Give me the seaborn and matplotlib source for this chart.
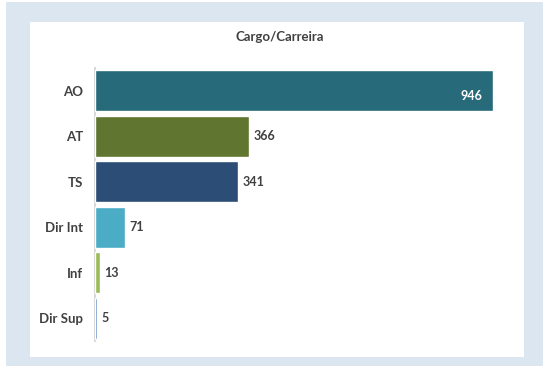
import matplotlib
matplotlib.use("Agg")
import matplotlib.pyplot as plt
from matplotlib.patches import Rectangle
import seaborn as sns
import pandas as pd

categories = ["AO", "AT", "TS", "Dir Int", "Inf", "Dir Sup"]
counts = [946, 366, 341, 71, 13, 5]
colors = ["#276a7a", "#5f7530", "#2c4d75", "#4bacc6", "#9bbb59", "#4f81bd"]
title = "Cargo/Carreira"

sns.set_theme(style="white")
plt.rcParams["font.family"] = ["Lato", "DejaVu Sans"]

df = pd.DataFrame({"cargo": categories, "n": counts})

W, H = 543, 366
fig = plt.figure(figsize=(W / 100, H / 100), dpi=100)
fig.patch.set_facecolor("white")

# light blue frame and white inner panel
fig.patches.append(Rectangle((6 / W, 0), 1 - 6 / W, 1 - 2 / H, transform=fig.transFigure,
                             facecolor="#dce6f0", edgecolor="none", zorder=-2))
fig.patches.append(Rectangle((30 / W, 1 - 357 / H), (524 - 30) / W, (357 - 22) / H,
                             transform=fig.transFigure, facecolor="white",
                             edgecolor="none", zorder=-1))

ax = fig.add_axes([95 / W, 1 - 341 / H, (493 - 95) / W, (341 - 68) / H])
ax.set_facecolor("none")

sns.barplot(data=df, y="cargo", x="n", hue="cargo", palette=colors,
            legend=False, width=0.9, saturation=1, ax=ax)

ax.set_xlim(0, 946)
ax.set_ylim(5.5, -0.5)
ax.set_xticks([])
ax.set_xlabel("")
ax.set_ylabel("")
for s in ["top", "right", "bottom"]:
    ax.spines[s].set_visible(False)
ax.spines["left"].set_color("#d9d9d9")
ax.spines["left"].set_linewidth(1.5)
ax.spines["left"].set_zorder(0)
ax.tick_params(axis="y", length=0, pad=8.5)
for lab in ax.get_yticklabels():
    lab.set_fontweight("bold")
    lab.set_fontsize(9.5)
    lab.set_color("#404040")

for i, v in enumerate(counts):
    if v == max(counts):
        ax.annotate(str(v), (v, i), xytext=(-8, -4), textcoords="offset points",
                    ha="right", va="center", color="white", fontsize=9,
                    fontweight="bold")
    else:
        ax.annotate(str(v), (v, i), xytext=(3, 0), textcoords="offset points",
                    ha="left", va="center", color="#404040", fontsize=9,
                    fontweight="bold")

fig.text(280 / W, 1 - 37 / H, title, ha="center", va="center",
         fontsize=9.5, fontweight="bold", color="#404040")

fig.savefig("out.png", dpi=100)
